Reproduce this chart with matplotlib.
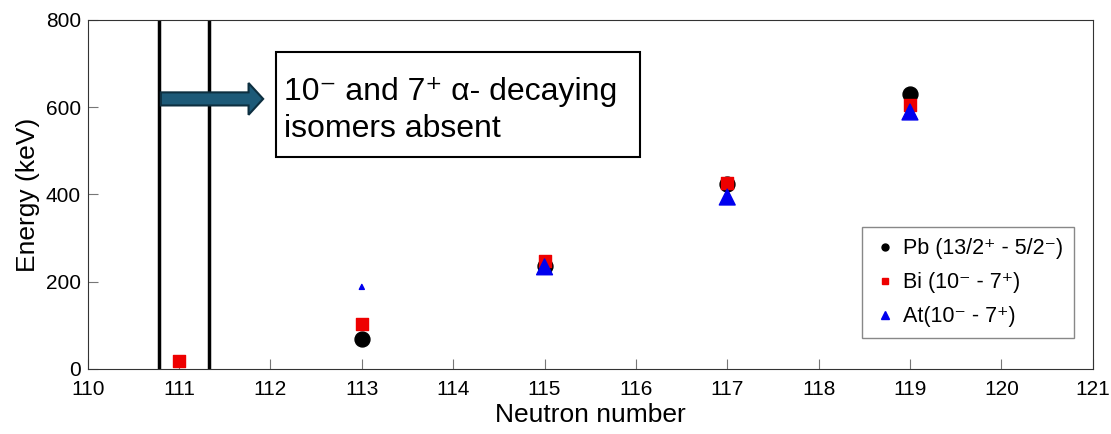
import numpy as np
import matplotlib.pyplot as plt
from matplotlib.patches import FancyArrow, Rectangle
from matplotlib.lines import Line2D

plt.rcParams['font.family'] = ['Liberation Sans', 'DejaVu Sans']

# energy differences of the isomeric pairs (keV) vs neutron number
n_pb = [113, 115, 117, 119]
e_pb = [69, 237, 425, 630]

n_bi = [111, 113, 115, 117, 119]
e_bi = [17, 103, 248, 427, 605]

n_at = [113, 115, 117, 119]
e_at = [188, 234, 394, 589]
s_at = [13, 130, 130, 130]   # the N=113 point is drawn small

# neutron numbers where the alpha-decaying isomers stop
cut_lines = [110.78, 111.33]

labels = ['Pb (13/2\u207a - 5/2\u207b)', 'Bi (10\u207b - 7\u207a)', 'At(10\u207b - 7\u207a)']

fig = plt.figure(figsize=(11.11, 4.34), dpi=100)
ax = fig.add_axes([0.079, 0.150, 0.9045, 0.804])

ax.scatter(n_pb, e_pb, s=115, c='black', marker='o', zorder=3)
ax.scatter(n_bi, e_bi, s=65, c='#ee0000', marker='s', zorder=4)
ax.scatter(n_at, e_at, s=s_at, c='#0000ee', marker='^', zorder=5)

for xv in cut_lines:
    ax.axvline(xv, color='black', lw=2.5, zorder=2)

ax.add_patch(FancyArrow(110.80, 619, 1.12, 0, width=30, head_width=73, head_length=0.16,
                        length_includes_head=True, fc='#1d5a78', ec='#0d2f40', lw=1.5, zorder=6))

# annotation box
ax.add_patch(Rectangle((112.06, 486), 3.98, 240, fc='white', ec='black', lw=1.5, zorder=7))
ax.text(112.15, 616, '10\u207b and 7\u207a \u03b1- decaying', fontsize=23, va='baseline', zorder=8)
ax.text(112.15, 531, 'isomers absent', fontsize=23, va='baseline', zorder=8)

ax.set_xlim(110, 121)
ax.set_ylim(0, 800)
ax.set_xticks(np.arange(110, 122, 1))
ax.set_yticks([0, 200, 400, 600, 800])
ax.tick_params(direction='in', length=7, color='#777777', labelsize=15, top=False, right=False)
ax.tick_params(axis='x', pad=8)
ax.tick_params(axis='y', pad=5)
for sp in ax.spines.values():
    sp.set_color('#333333')
ax.set_xlabel('Neutron number', fontsize=19, labelpad=3)
ax.set_ylabel('Energy (keV)', fontsize=19, labelpad=4)

handles = [
    Line2D([], [], ls='none', marker='o', ms=5, color='black'),
    Line2D([], [], ls='none', marker='s', ms=5, color='#ee0000'),
    Line2D([], [], ls='none', marker='^', ms=5.5, color='#0000ee'),
]
leg = ax.legend(handles, labels, loc='lower right', bbox_to_anchor=(0.981, 0.089), borderaxespad=0,
                fontsize=15.5, handletextpad=0.2, handlelength=1.2, borderpad=0.5, labelspacing=0.6,
                fancybox=False, framealpha=1)
leg.get_frame().set_edgecolor('#888888')
leg.get_frame().set_linewidth(1.0)

fig.savefig('out.png', dpi=100)
